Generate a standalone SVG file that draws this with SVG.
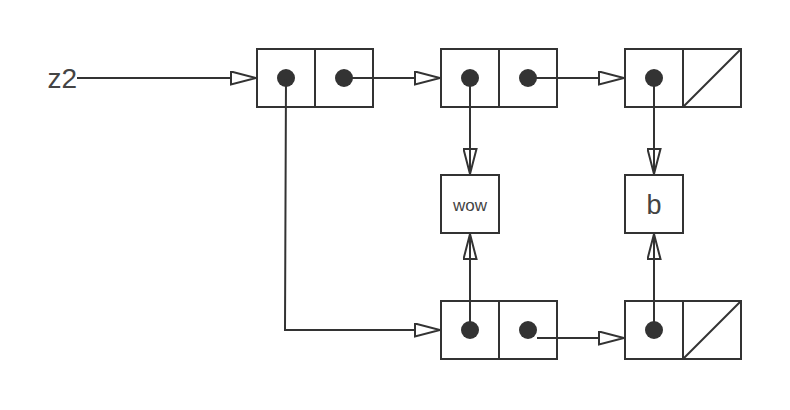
<svg xmlns="http://www.w3.org/2000/svg" width="790" height="410" viewBox="0 0 790 410">
<style>
.box{fill:#fff;stroke:#333;stroke-width:2}
.div{stroke:#333;stroke-width:2;fill:none}
.dot{fill:#333}
.edge{stroke:#333;stroke-width:2;fill:none;marker-end:url(#arr)}
.vedge{stroke:#333;stroke-width:2;fill:none;marker-end:url(#arrv)}
.lbl{font-family:"Liberation Sans",Arial,sans-serif;fill:#444}
</style>
<defs>
<marker id="arr" viewBox="0 0 27 15" refX="26" refY="7.5" markerWidth="27" markerHeight="15" markerUnits="userSpaceOnUse" orient="auto">
<path d="M1,1 L26,7.5 L1,14 Z" fill="#fff" stroke="#333" stroke-width="2"/>
</marker>
<marker id="arrv" viewBox="0 0 27 15" refX="26" refY="7.5" markerWidth="27" markerHeight="15" markerUnits="userSpaceOnUse" orient="auto">
<path d="M1,1 L26,7.5 L1,14 Z" fill="none" stroke="#333" stroke-width="2"/>
</marker>
</defs>
<rect width="790" height="410" fill="#fff"/>
<g id="z2"><text class="lbl" x="77" y="88" font-size="28" text-anchor="end">z2</text></g>
<g id="pair1">
<rect class="box" x="257" y="49" width="116" height="58"/>
<line class="div" x1="315" y1="49" x2="315" y2="107"/>
<circle class="dot" cx="286" cy="78" r="9"/>
<circle class="dot" cx="344" cy="78" r="9"/>
</g>
<g id="pair2">
<rect class="box" x="441" y="49" width="116" height="58"/>
<line class="div" x1="499" y1="49" x2="499" y2="107"/>
<circle class="dot" cx="470" cy="78" r="9"/>
<circle class="dot" cx="528" cy="78" r="9"/>
</g>
<g id="pair3">
<rect class="box" x="625" y="49" width="116" height="58"/>
<line class="div" x1="683" y1="49" x2="683" y2="107"/>
<line class="div" x1="683" y1="107" x2="741" y2="49"/>
<circle class="dot" cx="654" cy="78" r="9"/>
</g>
<g id="wow">
<rect class="box" x="441" y="175" width="58" height="58"/>
<text class="lbl" x="470" y="211" font-size="17" text-anchor="middle">wow</text>
</g>
<g id="b">
<rect class="box" x="625" y="175" width="58" height="58"/>
<text class="lbl" x="654" y="214" font-size="27" text-anchor="middle">b</text>
</g>
<g id="pair4">
<rect class="box" x="441" y="301" width="116" height="58"/>
<line class="div" x1="499" y1="301" x2="499" y2="359"/>
<circle class="dot" cx="470" cy="330" r="9"/>
<circle class="dot" cx="528" cy="330" r="9"/>
</g>
<g id="pair5">
<rect class="box" x="625" y="301" width="116" height="58"/>
<line class="div" x1="683" y1="301" x2="683" y2="359"/>
<line class="div" x1="683" y1="359" x2="741" y2="301"/>
<circle class="dot" cx="654" cy="330" r="9"/>
</g>
<g id="connectors">
<path class="edge" d="M77,78 L256,78"/>
<path class="edge" d="M344,78 L440,78"/>
<path class="edge" d="M528,78 L624,78"/>
<path class="vedge" d="M470,78 L470,174"/>
<path class="vedge" d="M654,78 L654,174"/>
<path class="edge" d="M286,78 L285,330 L440,330"/>
<path class="vedge" d="M470,330 L470,234"/>
<path class="vedge" d="M654,330 L654,234"/>
<path class="edge" d="M537,338 L624,338"/>
</g>
</svg>
